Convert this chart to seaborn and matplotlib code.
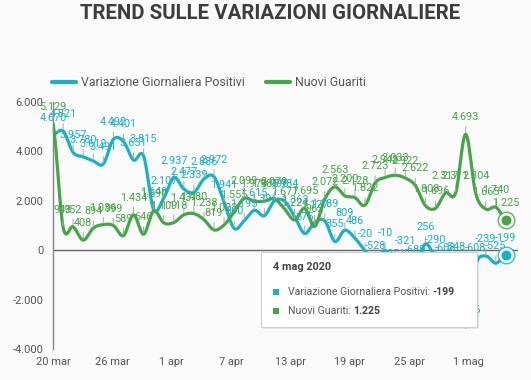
import numpy as np
import pandas as pd
import matplotlib
matplotlib.use("Agg")
import matplotlib.pyplot as plt
import seaborn as sns
from matplotlib.lines import Line2D
from matplotlib.patches import FancyBboxPatch, Rectangle

# Dati (20 mar - 4 mag 2020)
giorni = ["20 mar", "21 mar", "22 mar", "23 mar", "24 mar", "25 mar", "26 mar", "27 mar",
          "28 mar", "29 mar", "30 mar", "31 mar", "1 apr", "2 apr", "3 apr", "4 apr",
          "5 apr", "6 apr", "7 apr", "8 apr", "9 apr", "10 apr", "11 apr", "12 apr",
          "13 apr", "14 apr", "15 apr", "16 apr", "17 apr", "18 apr", "19 apr", "20 apr",
          "21 apr", "22 apr", "23 apr", "24 apr", "25 apr", "26 apr", "27 apr", "28 apr",
          "29 apr", "30 apr", "1 mag", "2 mag", "3 mag", "4 mag"]
var_positivi = [4670, 4821, 3957, 3780, 3612, 3491, 4492, 4401, 3651, 3815, 1648, 2107,
                2937, 2477, 2339, 2886, 2972, 1941, 880, 1195, 1615, 1396, 1996, 1984,
                1363, 675, 1127, 1189, 355, 809, 486, -20, -528, -10, -851, -321, -680,
                256, -290, -608, -548, -3106, -608, -239, -525, -199]
nuovi_guariti = [5129, 943, 952, 408, 894, 1036, 999, 589, 1434, 646, 1590, 1109, 1118,
                 1431, 1480, 1238, 819, 1022, 1555, 2099, 1979, 1985, 2079, 1677, 1224,
                 1695, 962, 2072, 2563, 2200, 2128, 1822, 2723, 2943, 3033, 2922, 2622,
                 1808, 1696, 2317, 2311, 4693, 2304, 1665, 1740, 1225]
serie = ["Variazione Giornaliera Positivi", "Nuovi Guariti"]
x_tick_labels = ["20 mar", "26 mar", "1 apr", "7 apr", "13 apr", "19 apr", "25 apr", "1 mag"]
y_ticks = [6000, 4000, 2000, 0, -2000, -4000]

CYAN = "#19b1c8"
GREEN = "#46a546"
BG = "#fafafa"


def fmt(v):
    return f"{v:,}".replace(",", ".")


def smooth(y, n=16):
    # curva "smooth" (catmull-rom) come nel grafico originale
    y = np.asarray(y, float)
    p = np.concatenate([[y[0]], y, [y[-1]]])
    xs, ys = [], []
    for i in range(len(y) - 1):
        p0, p1, p2, p3 = p[i], p[i + 1], p[i + 2], p[i + 3]
        t = np.linspace(0, 1, n, endpoint=False)
        m1 = (p2 - p0) / 2
        m2 = (p3 - p1) / 2
        h = (2*t**3 - 3*t**2 + 1)*p1 + (t**3 - 2*t**2 + t)*m1 + (-2*t**3 + 3*t**2)*p2 + (t**3 - t**2)*m2
        xs.append(i + t)
        ys.append(h)
    xs.append([len(y) - 1])
    ys.append([y[-1]])
    return np.concatenate(xs), np.concatenate(ys)


sns.set_style("white")
plt.rcParams["font.family"] = ["Roboto", "DejaVu Sans"]

fig = plt.figure(figsize=(5.31, 3.80), dpi=100, facecolor=BG)
ax = fig.add_axes([0.0998, 0.0816, 0.8757, 0.65], facecolor=BG)

frames = []
for name, vals in zip(serie, [var_positivi, nuovi_guariti]):
    xs, ys = smooth(vals)
    frames.append(pd.DataFrame({"x": xs, "y": ys, "serie": name}))
df = pd.concat(frames, ignore_index=True)

ax.axhline(0, color="#666666", lw=1, zorder=1)
sns.lineplot(data=df, x="x", y="y", hue="serie", palette=[CYAN, GREEN], lw=2.3,
             sort=False, legend=False, ax=ax, zorder=3)

# etichette dati
for vals, col in [(var_positivi, CYAN), (nuovi_guariti, GREEN)]:
    for i, v in enumerate(vals):
        ax.annotate(fmt(v), xy=(i, v), xytext=(0, 17), textcoords="offset pixels",
                    ha="center", va="center", fontsize=7.8, color=col, zorder=4,
                    arrowprops=dict(arrowstyle="-", color="#aaaaaa", lw=0.7,
                                    shrinkA=1, shrinkB=1, relpos=(0.5, 0)))

# marker finali
last = len(giorni) - 1
for vals, col in [(var_positivi, CYAN), (nuovi_guariti, GREEN)]:
    ax.plot(last, vals[-1], "o", ms=13, color=col, alpha=0.8, mew=0, zorder=5)
    ax.plot(last, vals[-1], "o", ms=9, mfc=col, mec="white", mew=1.8, zorder=6)

ax.set_xlim(0, 46.2)
ax.set_ylim(-4000, 6000)
ax.set_xticks(np.arange(len(x_tick_labels)) * 5.9)
ax.set_xticklabels(x_tick_labels)
ax.set_yticks(y_ticks)
ax.set_yticklabels([fmt(v) for v in y_ticks])
ax.tick_params(axis="both", length=0, labelsize=7.9, colors="#555555")
ax.tick_params(axis="x", pad=6)
ax.tick_params(axis="y", pad=7)
ax.set_xlabel("")
ax.set_ylabel("")
for s in ["top", "right", "bottom"]:
    ax.spines[s].set_visible(False)
ax.spines["left"].set_color("#888888")
ax.spines["left"].set_linewidth(1)

fig.text(0.508, 0.964, "TREND SULLE VARIAZIONI GIORNALIERE", ha="center", va="center",
         fontsize=14.7, fontweight="bold", color="#3d3d3d")

handles = [Line2D([], [], color=CYAN, lw=3), Line2D([], [], color=GREEN, lw=3)]
fig.legend(handles, serie, loc="center left", bbox_to_anchor=(52 / 531, 1 - 83 / 380),
           ncol=2, frameon=False, fontsize=8.9, labelcolor="#555555", handlelength=1.95,
           handletextpad=0.4, columnspacing=1.7, borderaxespad=0, borderpad=0)

# tooltip
x0, y0, w, h = 261 / 531, 1 - 327 / 380, 216 / 531, 75 / 380
fig.patches.append(FancyBboxPatch((x0 + 0.003, y0 - 0.005), w, h, boxstyle="square,pad=0",
                                  transform=fig.transFigure, fc="#000000", alpha=0.08,
                                  ec="none", zorder=9))
fig.patches.append(FancyBboxPatch((x0, y0), w, h, boxstyle="square,pad=0",
                                  transform=fig.transFigure, fc="white", ec="#d0d0d0",
                                  lw=0.8, zorder=10))
fig.text(273 / 531, 1 - 267 / 380, "4 mag 2020", ha="left", va="center", fontsize=7.8,
         fontweight="bold", color="#444444", zorder=11)
rows = [(serie[0], fmt(var_positivi[-1]), CYAN, 292), (serie[1], fmt(nuovi_guariti[-1]), GREEN, 311)]
for name, val, col, yy in rows:
    fig.patches.append(Rectangle((273 / 531, 1 - (yy + 3) / 380), 6 / 531, 6 / 380,
                                 transform=fig.transFigure, fc=col, ec="none", zorder=11))
    t = fig.text(288 / 531, 1 - yy / 380, name + ": ", ha="left", va="center",
                 fontsize=7.6, color="#555555", zorder=11)
    fig.add_artist(plt.Annotation(val, xy=(1, 0.5), xycoords=t, ha="left", va="center",
                                  fontsize=7.6, fontweight="bold", color="#444444", zorder=11))

fig.savefig("out.png", dpi=100, facecolor=BG)
